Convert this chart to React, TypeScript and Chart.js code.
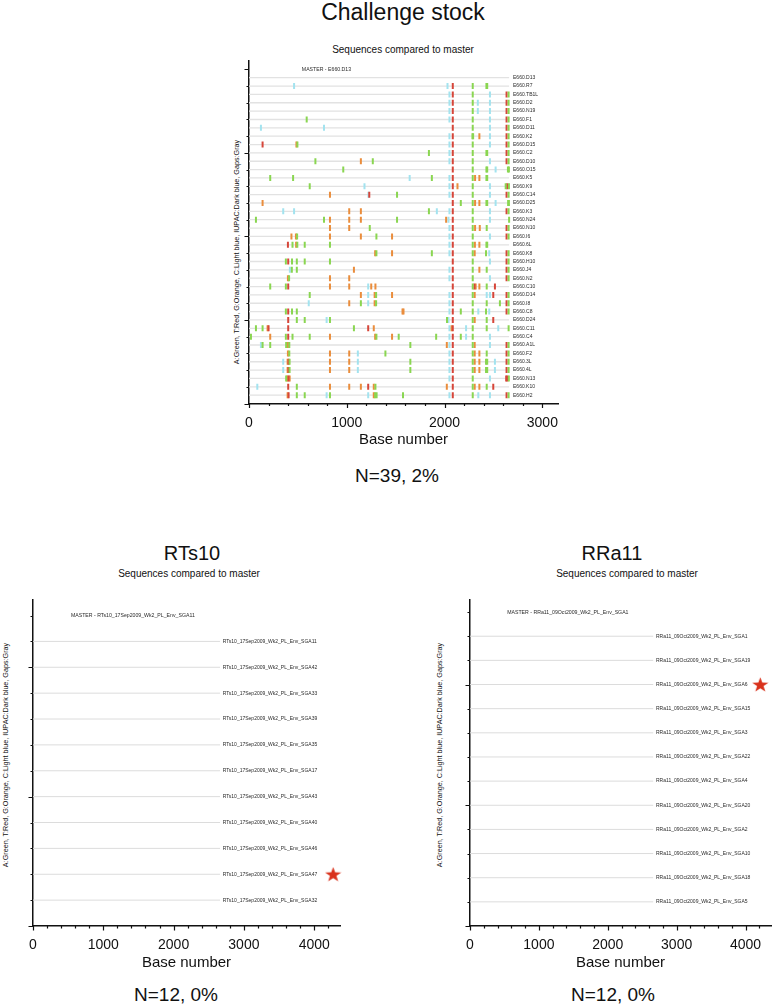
import { useEffect, useRef } from 'react';
import { Chart, registerables } from 'chart.js';

Chart.register(...registerables);

const FONT = '"Liberation Sans", Arial, Helvetica, sans-serif';

const BASE_COLORS: Record<string, string> = {
  A: '#8ad651',
  T: '#d6463a',
  G: '#ea8d3c',
  C: '#a3e3ef',
};
const BASES = ['A', 'T', 'G', 'C'];

const Y_TITLE = 'A:Green, T:Red, G:Orange, C:Light blue, IUPAC:Dark blue, Gaps:Gray';
const SUBTITLE = 'Sequences compared to master';
const X_TITLE = 'Base number';

// alignment geometry in base numbers
const LINE_END = 2660;
const LABEL_X = 2700;
const MASTER_X = 540;

// ---------- Challenge stock ----------
const topTitle = 'Challenge stock';
const topSummary = 'N=39, 2%';
const topMaster = 'MASTER - E660.D13';
const topXTicks = [0, 1000, 2000, 3000];
const topRowNames = [
  'E660.D13', 'E660.R7', 'E660.TB1L', 'E660.D2', 'E660.N19', 'E660.F1', 'E660.D11', 'E660.K2',
  'E660.D15', 'E660.C2', 'E660.D10', 'E660.O15', 'E660.K5', 'E660.K9', 'E660.C14', 'E660.D25',
  'E660.K3', 'E660.N24', 'E660.N10', 'E660.I6', 'E660.6L', 'E660.K8', 'E660.H10', 'E660.J4',
  'E660.N2', 'E660.C10', 'E660.D14', 'E660.I8', 'E660.C8', 'E660.D24', 'E660.C11', 'E660.C4',
  'E660.A1L', 'E660.F2', 'E660.3L', 'E660.4L', 'E660.N13', 'E660.K10', 'E660.H2',
];
// base letter + position, one string per row (top to bottom)
const topRowMutations = [
  '',
  'C461 C2030 T2084 A2288 A2428 A2436',
  'C2050 T2084 A2288 C2464 T2634 A2655',
  'C2050 T2084 A2288 C2340 C2464 T2634 A2655',
  'C2050 T2084 A2288 C2340 C2464 T2634 A2655',
  'A590 C2050 T2084 A2288 C2464 T2634 A2655',
  'C122 C767 T2084 A2288 C2464 T2634 A2655',
  'C2050 T2084 A2285 A2292 G2356 C2464 T2634 A2655',
  'T139 G485 A495 C2050 T2084 A2288 C2464 T2634 A2655',
  'A1840 C2050 T2084 A2288 A2428 A2436 T2634 A2655',
  'A679 G1144 A1266 C2050 T2084 A2288 C2464 T2634 A2655',
  'A964 T2084 A2288 A2428 A2436 C2522 A2648 A2658',
  'A217 A451 C1643 A1870 C2050 T2084 A2288 G2312 G2356 A2428 A2436',
  'A621 C1181 C2050 T2084 G2132 A2288 C2464 A2625 T2640 A2658',
  'G828 C1222 T1230 A1514 C2050 T2084 A2288 C2464 T2634 A2655',
  'G139 T2084 A2166 A2288 G2312 G2356 A2428 A2436 C2522 A2650 A2658',
  'C350 C461 G1025 G1144 A1840 C1921 C2050 T2084 A2288 C2464 T2634 A2655',
  'A71 A767 G828 G1025 G1144 A1514 G2016 C2040 T2084 A2288 C2464 A2660',
  'G828 G1025 A1235 C2050 T2084 A2288 G2312 G2360 A2431 T2634 A2655',
  'G434 G480 A492 G828 G1144 A1303 G1463 C2050 T2084 A2288 C2464 T2634 A2655',
  'T398 A445 G482 A494 A570 A828 C2050 T2084 A2288 G2310 G2356 A2428 A2436',
  'G1290 A1303 G1463 A1870 C2050 T2084 A2288 G2308 A2424 C2457 T2634 A2655',
  'A377 T401 A440 A489 A570 A828 T2084 A2288 C2464 T2634 A2655',
  'C418 A438 A489 G1073 C2050 T2084 A2288 G2356 A2431 T2634 A2655',
  'G398 A410 G828 G1025 C2050 T2084 A2288 C2464 T2634 A2655',
  'A217 A377 T401 G828 G1025 C1219 G1250 G1293 T2084 A2288 T2305 G2318 G2356 A2431 T2515',
  'A621 G1144 C1219 G1285 A1300 G1463 C2050 T2084 A2288 G2308 C2431 C2464 T2498 T2634 A2655',
  'C611 G1025 A1144 C1219 G1285 A1300 C2050 T2084 A2288 A2431 A2566 T2634 A2655',
  'A377 T401 A440 A489 G1570 G1580 C2050 T2084 A2166 A2288 C2345 A2424 C2457 T2634 A2655',
  'T401 A489 A570 C794 A828 A2025 C2040 T2084 A2288 G2308 A2431 T2498',
  'A71 A139 G190 T200 T401 A1073 T1219 G1276 C2050 G2072 T2084 C2220 A2288 A2431 C2549 A2655',
  'A20 G217 A377 T401 A445 A621 G828 G1290 A1303 G1463 A1531 A1914 C2050 T2084 A2166 C2220 A2288 C2464',
  'C122 A139 A217 A380 G398 A412 A1650 G2023 C2050 T2084 A2288 G2308 C2464 T2634 A2655',
  'G398 A412 G828 G1025 C1113 A1395 C2050 T2084 A2288 G2308 G2356 A2431 T2634 A2655',
  'C350 G395 T405 A415 G828 G1025 C1113 A1650 C2050 T2084 A2288 G2308 G2356 A2424 A2436 C2515 T2634 A2655',
  'C350 G395 T405 A415 G828 G1025 C1113 A1650 C2050 T2084 A2288 G2308 G2356 A2424 A2436 C2515 T2634 A2655',
  'A380 G392 T404 G416 C2050 T2084 A2288 C2464 T2630 T2642 A2657',
  'C85 T401 A489 G828 G1025 G1144 T1219 G1276 A1293 G2023 T2084 A2288 G2308 G2356 A2431 T2498',
  'G395 T405 A489 A570 C794 A828 C1219 G1276 A1290 A1305 A1575 C2050 T2084 A2288 C2345 C2464 T2634 A2655',
];

// ---------- RTs10 ----------
const rtsTitle = 'RTs10';
const rtsSummary = 'N=12, 0%';
const rtsMaster = 'MASTER - RTs10_17Sep2009_Wk2_PL_Env_SGA11';
const bottomXTicks = [0, 1000, 2000, 3000, 4000];
const rtsRowNames = [
  'RTs10_17Sep2009_Wk2_PL_Env_SGA11', 'RTs10_17Sep2009_Wk2_PL_Env_SGA42',
  'RTs10_17Sep2009_Wk2_PL_Env_SGA33', 'RTs10_17Sep2009_Wk2_PL_Env_SGA39',
  'RTs10_17Sep2009_Wk2_PL_Env_SGA35', 'RTs10_17Sep2009_Wk2_PL_Env_SGA17',
  'RTs10_17Sep2009_Wk2_PL_Env_SGA43', 'RTs10_17Sep2009_Wk2_PL_Env_SGA40',
  'RTs10_17Sep2009_Wk2_PL_Env_SGA46', 'RTs10_17Sep2009_Wk2_PL_Env_SGA47',
  'RTs10_17Sep2009_Wk2_PL_Env_SGA32',
];
const rtsRowMutations = rtsRowNames.map(() => '');
const rtsStarRow = 'RTs10_17Sep2009_Wk2_PL_Env_SGA47';
const rtsStarX = 4270;

// ---------- RRa11 ----------
const rraTitle = 'RRa11';
const rraSummary = 'N=12, 0%';
const rraMaster = 'MASTER - RRa11_09Oct2009_Wk2_PL_Env_SGA1';
const rraRowNames = [
  'RRa11_09Oct2009_Wk2_PL_Env_SGA1', 'RRa11_09Oct2009_Wk2_PL_Env_SGA19',
  'RRa11_09Oct2009_Wk2_PL_Env_SGA6', 'RRa11_09Oct2009_Wk2_PL_Env_SGA15',
  'RRa11_09Oct2009_Wk2_PL_Env_SGA3', 'RRa11_09Oct2009_Wk2_PL_Env_SGA22',
  'RRa11_09Oct2009_Wk2_PL_Env_SGA4', 'RRa11_09Oct2009_Wk2_PL_Env_SGA20',
  'RRa11_09Oct2009_Wk2_PL_Env_SGA2', 'RRa11_09Oct2009_Wk2_PL_Env_SGA10',
  'RRa11_09Oct2009_Wk2_PL_Env_SGA18', 'RRa11_09Oct2009_Wk2_PL_Env_SGA5',
];
const rraRowMutations = rraRowNames.map(() => '');
const rraStarRow = 'RRa11_09Oct2009_Wk2_PL_Env_SGA6';
const rraStarX = 4214;

function parseMutations(s: string) {
  const t = s.trim();
  if (!t) return [] as { base: string; pos: number }[];
  return t.split(/\s+/).map((tok) => ({ base: tok[0], pos: Number(tok.slice(1)) }));
}

function makeStar(): HTMLCanvasElement {
  const c = document.createElement('canvas');
  const w = 17;
  const h = 15;
  c.width = w;
  c.height = h;
  const ctx = c.getContext('2d')!;
  ctx.fillStyle = '#d9321c';
  ctx.beginPath();
  const cx = w / 2;
  const cy = h / 2 + 0.6;
  for (let i = 0; i < 10; i++) {
    const r = i % 2 === 0 ? 1 : 0.4;
    const a = -Math.PI / 2 + (i * Math.PI) / 5;
    const x = cx + Math.cos(a) * r * (w / 2);
    const y = cy + Math.sin(a) * r * (h / 2 + 0.4);
    if (i === 0) ctx.moveTo(x, y);
    else ctx.lineTo(x, y);
  }
  ctx.closePath();
  ctx.fill();
  return c;
}

const manualTicks = {
  id: 'manualTicks',
  afterDraw(chart: any, _args: any, opts: any) {
    const ctx = chart.ctx;
    const xs = chart.scales.x;
    const ys = chart.scales.y;
    const { left, bottom } = chart.chartArea;
    ctx.save();
    ctx.strokeStyle = '#111';
    ctx.lineWidth = 1.2;
    ctx.beginPath();
    for (let v = 0; v <= xs.max + 1e-6; v += opts.xMinor) {
      const px = Math.round(xs.getPixelForValue(v)) + 0.5;
      const len = v % opts.xMajor === 0 ? 4.5 : 2.5;
      ctx.moveTo(px, bottom);
      ctx.lineTo(px, bottom + len);
    }
    for (let v = 0; v <= ys.max + 1e-6; v += opts.yMinor) {
      const py = Math.round(ys.getPixelForValue(v)) + 0.5;
      const len = v % opts.yMajor === 0 ? 4.5 : 2.5;
      ctx.moveTo(left, py);
      ctx.lineTo(left - len, py);
    }
    ctx.stroke();
    ctx.restore();
  },
};

const rowLabels = {
  id: 'rowLabels',
  afterDatasetsDraw(chart: any, _args: any, opts: any) {
    const ctx = chart.ctx;
    const xs = chart.scales.x;
    const ys = chart.scales.y;
    ctx.save();
    ctx.fillStyle = '#2a2a2a';
    ctx.textAlign = 'left';
    ctx.textBaseline = 'middle';
    ctx.font = `${opts.masterSize}px ${FONT}`;
    ctx.fillText(opts.master, xs.getPixelForValue(MASTER_X), ys.getPixelForValue(opts.names.length + 1));
    ctx.font = `${opts.size}px ${FONT}`;
    const n = opts.names.length;
    opts.names.forEach((name: string, i: number) => {
      ctx.fillText(name, xs.getPixelForValue(LABEL_X), ys.getPixelForValue(n - i));
    });
    ctx.restore();
  },
};

type PanelProps = {
  left: number;
  top: number;
  padTop: number;
  yAxisW: number;
  plotW: number;
  plotH: number;
  padRight: number;
  xAxisH: number;
  xMax: number;
  yMax: number;
  xTicks: number[];
  yMinor: number;
  yMajor: number;
  names: string[];
  mutations: string[];
  master: string;
  starRow?: string;
  starX?: number;
  lineColor: string;
  lineWidth: number;
  markHalf: number;
  markWidth: number;
  labelSize: number;
};

function Panel(p: PanelProps) {
  const ref = useRef<HTMLCanvasElement | null>(null);
  const width = p.yAxisW + p.plotW + p.padRight;
  const height = p.padTop + p.plotH + p.xAxisH;

  useEffect(() => {
    if (!ref.current) return;
    const n = p.names.length;
    const lineSets: any[] = p.names.map((_, i) => ({
      type: 'line',
      data: [
        { x: 0, y: n - i },
        { x: LINE_END, y: n - i },
      ],
      borderColor: p.lineColor,
      borderWidth: p.lineWidth,
      pointRadius: 0,
      order: 3,
    }));
    const markSets: any[] = BASES.map((b) => ({
      type: 'scatter',
      data: p.mutations.flatMap((s, i) =>
        parseMutations(s)
          .filter((m) => m.base === b)
          .map((m) => ({ x: m.pos, y: n - i }))
      ),
      pointStyle: 'line',
      pointRotation: 90,
      pointRadius: p.markHalf,
      pointBorderColor: BASE_COLORS[b],
      pointBorderWidth: p.markWidth,
      pointBackgroundColor: BASE_COLORS[b],
      order: 2,
    }));
    const extra: any[] = [];
    if (p.starRow && p.starX !== undefined) {
      const idx = p.names.indexOf(p.starRow);
      extra.push({
        type: 'scatter',
        data: [{ x: p.starX, y: n - idx }],
        pointStyle: makeStar(),
        pointRadius: 8,
        order: 1,
        clip: false,
      });
    }
    const chart = new Chart(ref.current, {
      type: 'scatter',
      data: { datasets: [...lineSets, ...markSets, ...extra] },
      options: {
        animation: false,
        responsive: false,
        events: [],
        layout: { padding: { left: 0, top: p.padTop, right: p.padRight, bottom: 0 } },
        plugins: {
          legend: { display: false },
          tooltip: { enabled: false },
          manualTicks: { xMinor: 200, xMajor: 1000, yMinor: p.yMinor, yMajor: p.yMajor },
          rowLabels: { names: p.names, master: p.master, size: p.labelSize, masterSize: p.labelSize + 0.2 },
        } as any,
        scales: {
          x: {
            type: 'linear',
            position: 'bottom',
            min: 0,
            max: p.xMax,
            grid: { display: false, drawTicks: false },
            border: { display: true, color: '#111', width: 1.5 },
            afterBuildTicks: (s: any) => {
              s.ticks = p.xTicks.map((v) => ({ value: v }));
            },
            ticks: {
              padding: 11,
              color: '#111',
              maxRotation: 0,
              autoSkip: false,
              font: { size: 14, family: FONT },
              callback: (v: any) => String(v),
            },
            title: {
              display: true,
              text: X_TITLE,
              color: '#111',
              padding: 0,
              font: { size: 15, family: FONT },
            },
            afterFit: (s: any) => {
              s.height = p.xAxisH;
            },
          },
          y: {
            type: 'linear',
            min: 0,
            max: p.yMax,
            grid: { display: false, drawTicks: false },
            border: { display: true, color: '#111', width: 1.5 },
            ticks: { display: false },
            afterFit: (s: any) => {
              s.width = p.yAxisW;
            },
          },
        },
      },
      plugins: [manualTicks, rowLabels],
    });
    return () => chart.destroy();
  }, []);

  return (
    <canvas
      ref={ref}
      width={width}
      height={height}
      style={{ position: 'absolute', left: p.left, top: p.top, width, height }}
    />
  );
}

function Txt(props: { text: string; x: number; y: number; size: number; rotate?: boolean }) {
  return (
    <div
      style={{
        position: 'absolute',
        left: props.x,
        top: props.y,
        transform: `translate(-50%, -50%)${props.rotate ? ' rotate(-90deg)' : ''}`,
        fontFamily: FONT,
        fontSize: props.size,
        lineHeight: 1,
        whiteSpace: 'nowrap',
        color: '#111',
      }}
    >
      {props.text}
    </div>
  );
}

export default function App() {
  useEffect(() => {
    document.body.style.margin = '0';
    document.body.style.overflow = 'hidden';
  }, []);
  return (
    <div style={{ position: 'absolute', left: 0, top: 0, width: 780, height: 1006, background: '#fff', overflow: 'hidden' }}>
      <Txt text={topTitle} x={403} y={12} size={23} />
      <Txt text={SUBTITLE} x={403} y={50} size={10} />
      <Txt text={Y_TITLE} x={237} y={252} size={7.2} rotate />
      <Panel
        left={229}
        top={55}
        padTop={5}
        yAxisW={20}
        plotW={309}
        plotH={343.5}
        padRight={30}
        xAxisH={45.5}
        xMax={3160}
        yMax={41}
        xTicks={topXTicks}
        yMinor={2}
        yMajor={10}
        names={topRowNames}
        mutations={topRowMutations}
        master={topMaster}
        lineColor="#e2e2e2"
        lineWidth={1.3}
        markHalf={3}
        markWidth={2}
        labelSize={5}
      />
      <Txt text={topSummary} x={397} y={475} size={19} />

      <Txt text={rtsTitle} x={192} y={553} size={20} />
      <Txt text={SUBTITLE} x={189} y={574} size={10} />
      <Txt text={Y_TITLE} x={6} y={755} size={7.2} rotate />
      <Panel
        left={13}
        top={591}
        padTop={5}
        yAxisW={20}
        plotW={307}
        plotH={330}
        padRight={20}
        xAxisH={46}
        xMax={4367}
        yMax={12.6}
        xTicks={bottomXTicks}
        yMinor={1}
        yMajor={5}
        names={rtsRowNames}
        mutations={rtsRowMutations}
        master={rtsMaster}
        starRow={rtsStarRow}
        starX={rtsStarX}
        lineColor="#dcdcdc"
        lineWidth={1}
        markHalf={4}
        markWidth={2}
        labelSize={5}
      />
      <Txt text={rtsSummary} x={176} y={994} size={19} />

      <Txt text={rraTitle} x={612} y={553} size={20} />
      <Txt text={SUBTITLE} x={627} y={574} size={10} />
      <Txt text={Y_TITLE} x={440} y={755} size={7.2} rotate />
      <Panel
        left={450}
        top={591}
        padTop={5}
        yAxisW={20}
        plotW={307.6}
        plotH={330}
        padRight={2.4}
        xAxisH={46}
        xMax={4370}
        yMax={13.5}
        xTicks={bottomXTicks}
        yMinor={1}
        yMajor={5}
        names={rraRowNames}
        mutations={rraRowMutations}
        master={rraMaster}
        starRow={rraStarRow}
        starX={rraStarX}
        lineColor="#dcdcdc"
        lineWidth={1}
        markHalf={4}
        markWidth={2}
        labelSize={5}
      />
      <Txt text={rraSummary} x={613} y={994} size={19} />
    </div>
  );
}
